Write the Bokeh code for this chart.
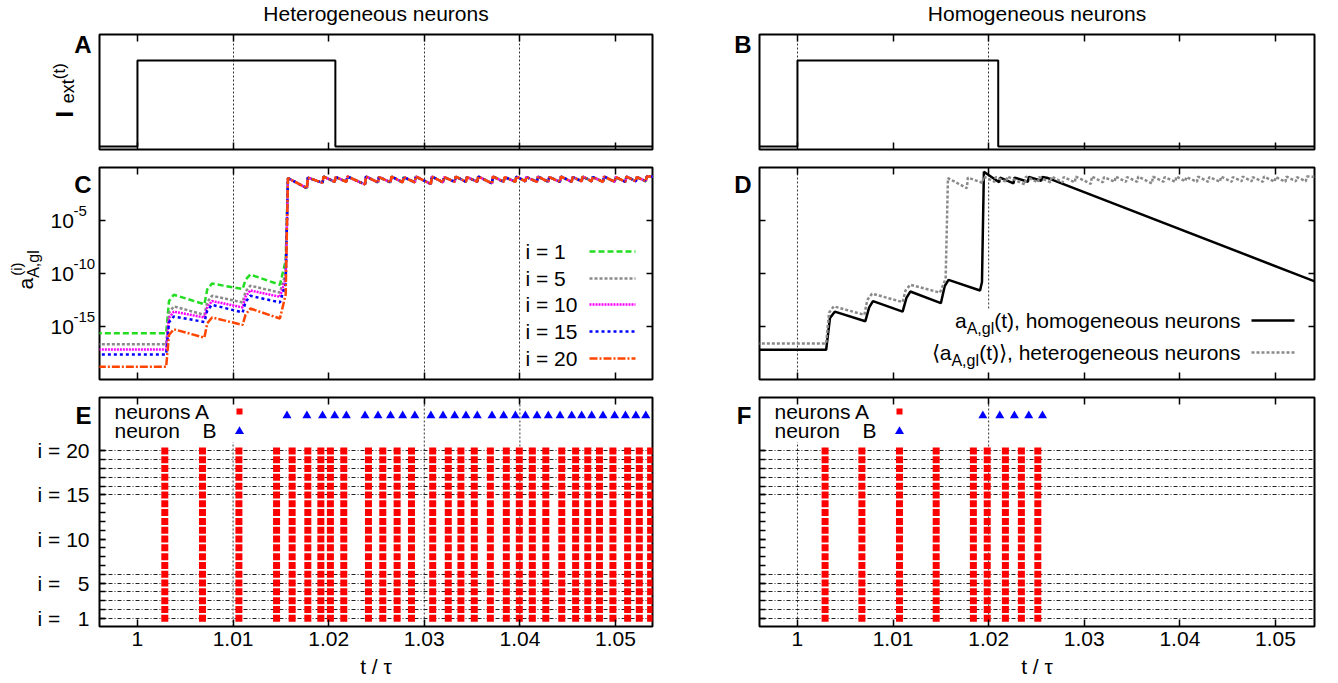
import numpy as np
from bokeh.plotting import figure
from bokeh.models import Range1d, FixedTicker, LinearAxis, LogAxis, Label, GridBox
from bokeh.layouts import column, row
from bokeh.embed import file_html
from bokeh.resources import INLINE

# ---------------- data ----------------
x_ticks = [1.0, 1.01, 1.02, 1.03, 1.04, 1.05]
x_tick_labels = ["1", "1.01", "1.02", "1.03", "1.04", "1.05"]

# panels A / B : external current (arbitrary units)
iext_t_het = [0.99, 1.0, 1.0207, 1.06]
iext_v_het = [0.0, 1.0, 0.0, 0.0]
iext_t_hom = [0.99, 1.0, 1.0210, 1.06]
iext_v_hom = [0.0, 1.0, 0.0, 0.0]

# dotted reference times
vlines_het = [1.01, 1.03, 1.04]
vlines_hom = [1.0, 1.02]

# panel C/D log axis
log_ticks = [1e-15, 1e-10, 1e-5]
log_tick_exps = ["-15", "-10", "-5"]

# panel C : log10 a_A,gl^(i) before the burst
early_t = [0.99, 1.0030, 1.0033, 1.0038, 1.0070, 1.0073, 1.0078, 1.0110, 1.0113, 1.0118, 1.0149, 1.0155]
log_a_i1 = [-15.64, -15.64, -12.6, -12.0, -12.9, -11.5, -10.95, -11.47, -10.6, -10.1, -11.06, -8.8]
log_a_i5 = [-16.68, -16.68, -13.7, -13.1, -13.9, -12.7, -12.1, -12.73, -11.7, -11.15, -11.8, -10.0]
log_a_i10 = [-17.16, -17.16, -14.2, -13.6, -14.15, -13.2, -12.6, -13.2, -12.2, -11.6, -12.2, -10.5]
log_a_i15 = [-17.63, -17.63, -14.6, -14.06, -14.57, -13.5, -12.95, -13.68, -12.7, -12.1, -12.73, -11.0]
log_a_i20 = [-18.8, -18.8, -15.8, -15.26, -16.05, -14.7, -14.15, -14.85, -13.9, -13.3, -14.25, -12.0]
log_a_mean_het = [-16.6, -16.6, -13.7, -13.1, -13.9, -12.5, -11.9, -12.7, -11.6, -11.06, -11.8, -10.5]
series_names = ["i = 1", "i = 5", "i = 10", "i = 15", "i = 20"]

# saturated (sawtooth) part, driven by the spikes of neuron B
spike_B_het = [1.01564, 1.01772, 1.01936, 1.02063, 1.02185, 1.02380, 1.02516, 1.02647, 1.02774, 1.02901,
               1.03069, 1.03196, 1.03318, 1.03436, 1.03554, 1.03708, 1.03830, 1.03953, 1.04057, 1.04179,
               1.04297, 1.04420, 1.04542, 1.04646, 1.04751, 1.04869, 1.04991, 1.05104, 1.05213, 1.05317]
sat_peak = [-1.0, -0.95, -0.85, -0.9, -0.85, -0.85, -0.9, -0.85, -0.9, -0.85,
            -0.85, -0.9, -0.85, -0.9, -0.85, -0.85, -0.9, -0.85, -0.9, -0.85,
            -0.9, -0.85, -0.9, -0.85, -0.9, -0.85, -0.9, -0.85, -0.9, -0.85]
sat_trough = [-1.95, -1.45, -1.35, -1.35, -1.6, -1.4, -1.4, -1.4, -1.4, -1.55,
              -1.4, -1.35, -1.35, -1.35, -1.5, -1.35, -1.35, -1.3, -1.35, -1.35,
              -1.35, -1.35, -1.3, -1.3, -1.35, -1.35, -1.35, -1.3, -1.3]
sat_end_t = 1.06
sat_end_v = -1.0

# panel D : homogeneous neurons
hom_t = [0.99, 1.0030, 1.0034, 1.0039, 1.0071, 1.0075, 1.0079, 1.0110, 1.0114, 1.0118, 1.0150, 1.0154,
         1.0158, 1.0191, 1.0193, 1.0195, 1.0211, 1.0212, 1.0226, 1.0227, 1.0241, 1.0242, 1.0255, 1.0256,
         1.0262, 1.0545]
log_a_hom = [-17.2, -17.2, -14.2, -13.6, -14.5, -13.2, -12.6, -13.6, -12.3, -11.7, -12.8, -11.2,
             -10.6, -11.6, -10.8, -0.4, -1.4, -0.95, -1.5, -0.95, -1.35, -0.9, -1.25, -0.9,
             -1.0, -10.88]

# panels E / F : spike rasters
spike_A_het = [1.00286, 1.00680, 1.01061, 1.01455, 1.01618, 1.01782, 1.01918, 1.02018, 1.02158, 1.02416,
               1.02566, 1.02716, 1.02866, 1.03088, 1.03251, 1.03383, 1.03523, 1.03691, 1.03858, 1.03994,
               1.04130, 1.04271, 1.04438, 1.04583, 1.04710, 1.04832, 1.04973, 1.05127, 1.05249, 1.05367]
spike_A_hom = [1.00289, 1.00674, 1.01067, 1.01451, 1.01840, 1.01985, 1.02175, 1.02342, 1.02514]
spike_B_hom = [1.01939, 1.02116, 1.02269, 1.02419, 1.02563]
neuron_ids = list(range(1, 21))
neuron_B_row = 24
hlines = [1, 2, 3, 4, 5, 6, 15, 16, 17, 18, 19, 20]
y_tick_vals = [1, 5, 10, 15, 20]
y_tick_labels = ["i = \u20071", "i = \u20075", "i = 10", "i = 15", "i = 20"]

# ---------------- layout / style ----------------
FONT = "Liberation Sans"
X0 = 0.99603
X1_L, X1_R = 1.05387, 1.05408
FW_L, FW_R = 553, 555
FH = [115, 212, 229]
BL_L, BR_L, BL_R, BR_R = 99, 20, 87, 20
BT = [34, 9, 9]
BB = [9, 9, 55]
PAGE_W = BL_L + FW_L + BR_L + BL_R + FW_R + BR_R
PAGE_H = sum(BT) + sum(FH) + sum(BB)
FRAME_LEFT = [BL_L, BL_L + FW_L + BR_L + BL_R]
FRAME_TOP = [BT[0], BT[0] + FH[0] + BB[0] + BT[1],
             BT[0] + FH[0] + BB[0] + BT[1] + FH[1] + BB[1] + BT[2]]
YA = (-0.035, 1.302)
YC = (1e-20, 1.0)
YE = (0.07, 26.06)
RISE = 0.0001
KEY_TOP_E = 21.0
KEY_RIGHT_E = 1.0115
KEY_TOP_D = 10 ** -13.3
BASE_FIX = 0.35   # renderer puts the text ~0.35 em below the requested baseline

series_colors = ["#22dd22", "#8a8a8a", "#ff00ff", "#0000ff", "#ff4500"]
series_dashes = ["6 3", "3 2", "2 1", "3 3", "8 2 2 2"]

W = {' ': 278, '(': 333, ')': 333, ',': 278, 'a': 556, 'c': 500, 'e': 556, 'g': 556, 'h': 556,
     'i': 222, 'l': 222, 'm': 833, 'n': 556, 'o': 556, 'r': 333, 's': 500, 't': 278, 'u': 556,
     'x': 500, 'A': 667, 'B': 667, '\u27e8': 390, '\u27e9': 390, '-': 333}


def tw(s, size):
    return sum(W.get(c, 556) for c in s) * size / 1000.0


def lab(p, x, y, text, size=21, bold=False, align="left"):
    """label inside a figure frame, x/y = baseline in px from the frame's bottom-left"""
    p.add_layout(Label(x=float(x), y=float(y + BASE_FIX * size), x_units="screen", y_units="screen",
                       text=text, text_font=FONT, text_font_size=f"{size}px",
                       text_font_style="bold" if bold else "normal",
                       text_align=align, text_baseline="alphabetic", text_color="black"))


overlay = figure(width=PAGE_W, height=PAGE_H, x_range=Range1d(0, PAGE_W), y_range=Range1d(PAGE_H, 0),
                 x_axis_location=None, y_axis_location=None, output_backend="svg",
                 toolbar_location=None, title=None,
                 min_border_left=0, min_border_right=0, min_border_top=0, min_border_bottom=0)
overlay.outline_line_color = None
overlay.background_fill_color = None
overlay.border_fill_color = None
overlay.grid.visible = False


def olab(x, y, text, size=21, bold=False, align="left", rotated=False):
    """label in page pixels (top-left origin); x/y = baseline start point"""
    if rotated:
        x = x - BASE_FIX * size
    else:
        y = y - BASE_FIX * size
    overlay.add_layout(Label(x=float(x), y=float(y), text=text,
                             text_font=FONT, text_font_size=f"{size}px",
                             text_font_style="bold" if bold else "normal",
                             text_align=align, text_baseline="alphabetic",
                             angle=float(np.pi / 2) if rotated else 0.0,
                             text_color="black"))


def ticks_only(ax, ticks, minor=None, length=6):
    ax.ticker = FixedTicker(ticks=ticks, minor_ticks=minor or [])
    ax.major_tick_in = length
    ax.major_tick_out = 0
    ax.minor_tick_in = length if minor else 0
    ax.minor_tick_out = 0
    ax.major_tick_line_width = 1.5
    ax.minor_tick_line_width = 1.5
    ax.major_tick_line_color = "black"
    ax.minor_tick_line_color = "black"
    ax.axis_line_color = None
    ax.major_label_text_font_size = "1px"
    ax.major_label_text_color = None
    ax.major_label_standoff = 0


def make_fig(col, r, yr, ylog=False, grid=True):
    fw = FW_L if col == 0 else FW_R
    bl = BL_L if col == 0 else BL_R
    br = BR_L if col == 0 else BR_R
    x1 = X1_L if col == 0 else X1_R
    p = figure(width=bl + fw + br, height=BT[r] + FH[r] + BB[r],
               x_range=Range1d(X0, x1), y_range=Range1d(*yr),
               y_axis_type="log" if ylog else "linear",
               output_backend="svg", toolbar_location=None, title=None,
               min_border_left=bl, min_border_right=br,
               min_border_top=BT[r], min_border_bottom=BB[r])
    p.outline_line_color = "black"
    p.outline_line_width = 2
    p.background_fill_color = "white"
    p.border_fill_color = "white"
    p.ygrid.visible = False
    if grid:
        p.xgrid.ticker = FixedTicker(ticks=vlines_het if col == 0 else vlines_hom)
        p.xgrid.grid_line_color = "#333333"
        p.xgrid.grid_line_dash = "2 2"
        p.xgrid.grid_line_width = 1
    else:
        p.xgrid.visible = False
    ticks_only(p.below[0], x_ticks, length=7)
    top = LinearAxis()
    p.add_layout(top, "above")
    ticks_only(top, x_ticks, length=7)
    return p, fw, x1


def vline_segments(p, xs, y0s, y1s):
    p.segment(x0=xs, y0=y0s, x1=xs, y1=y1s, line_color="#333333", line_dash="2 2",
              line_width=1, level="underlay")


def to_x(rel, fw, x1):
    return X0 + rel / fw * (x1 - X0)


def to_ylog(rel, fh):
    return float(10 ** (-20 + 20.0 * rel / fh))


def to_ylin(rel, fh, y0, y1):
    return y0 + rel / fh * (y1 - y0)


def sawtooth():
    ts, vs = [], []
    for k, t in enumerate(spike_B_het):
        if k > 0:
            ts.append(t)
            vs.append(sat_trough[k - 1])
        ts.append(t + RISE)
        vs.append(sat_peak[k])
    ts.append(sat_end_t)
    vs.append(sat_end_v)
    return ts, vs


sat_t, sat_v = sawtooth()

# ---------------- panel A / B ----------------
figs_top = []
for col, (tt, vv) in enumerate([(iext_t_het, iext_v_het), (iext_t_hom, iext_v_hom)]):
    p, fw, x1 = make_fig(col, 0, YA)
    p.yaxis.visible = False
    p.step(tt, vv, mode="after", line_color="black", line_width=2)
    figs_top.append(p)

# ---------------- panel C ----------------
pC, fwC, x1C = make_fig(0, 1, YC, ylog=True)
ticks_only(pC.left[0], log_ticks)
rC = LogAxis()
pC.add_layout(rC, "right")
ticks_only(rC, log_ticks)
for vals, color, dash in zip([log_a_i1, log_a_i5, log_a_i10, log_a_i15, log_a_i20], series_colors, series_dashes):
    t_all = early_t + sat_t
    v_all = [float(10 ** v) for v in vals + sat_v]
    pC.line(t_all, v_all, line_color=color, line_dash=dash, line_width=2.5)
leg_rows = [128, 101, 75, 48, 21]
for name, color, dash, ry in zip(series_names, series_colors, series_dashes, leg_rows):
    lab(pC, 426, ry - 7.5, name, 21)
    pC.line([to_x(490, fwC, x1C), to_x(536, fwC, x1C)], [to_ylog(ry, FH[1])] * 2,
            line_color=color, line_dash=dash, line_width=2.5)

# ---------------- panel D ----------------
pD, fwD, x1D = make_fig(1, 1, YC, ylog=True, grid=False)
vline_segments(pD, vlines_hom, [1e-20, KEY_TOP_D], [1.0, 1.0])
ticks_only(pD.left[0], log_ticks)
rD = LogAxis()
pD.add_layout(rD, "right")
ticks_only(rD, log_ticks)
pD.line(hom_t, [float(10 ** v) for v in log_a_hom], line_color="black", line_width=2.5)
pD.line(early_t + sat_t, [float(10 ** v) for v in log_a_mean_het + sat_v],
        line_color="#8a8a8a", line_dash="3 2", line_width=2.5)
for ry, pre, tail, color, dash in [(59, "a", "(t), homogeneous neurons", "black", "solid"),
                                   (27, "\u27e8a", "(t)\u27e9, heterogeneous neurons", "#8a8a8a", "3 2")]:
    xr = 481
    lab(pD, xr, ry - 7.5, tail, 21, align="right")
    xs = xr - tw(tail, 21)
    lab(pD, xs, ry - 13.5, "A,gl", 16, align="right")
    xa = xs - tw("A,gl", 16)
    lab(pD, xa, ry - 7.5, pre, 21, align="right")
    pD.line([to_x(492, fwD, x1D), to_x(535, fwD, x1D)], [to_ylog(ry, FH[1])] * 2,
            line_color=color, line_dash=dash, line_width=2.5)

# ---------------- panel E / F ----------------
figs_bot = []
for col, (spA, spB) in enumerate([(spike_A_het, spike_B_het), (spike_A_hom, spike_B_hom)]):
    p, fw, x1 = make_fig(col, 2, YE, grid=False)
    vl = vlines_het if col == 0 else vlines_hom
    y1s = [KEY_TOP_E if v < KEY_RIGHT_E else YE[1] for v in vl]
    vline_segments(p, vl, [YE[0]] * len(vl), y1s)
    p.ygrid.visible = True
    p.ygrid.ticker = FixedTicker(ticks=hlines)
    p.ygrid.grid_line_color = "#222222"
    p.ygrid.grid_line_dash = "4 2 1 2"
    p.ygrid.grid_line_width = 1
    ax = p.below[0]
    ax.major_label_text_font_size = "21px"
    ax.major_label_text_font = FONT
    ax.major_label_text_color = "black"
    ax.major_label_standoff = 5
    ax.major_label_overrides = dict(zip(x_ticks, x_tick_labels))
    ly = p.left[0]
    ticks_only(ly, y_tick_vals, minor=neuron_ids, length=6)
    if col == 0:
        ly.major_label_text_font_size = "21px"
        ly.major_label_text_font = FONT
        ly.major_label_text_color = "black"
        ly.major_label_standoff = 10
        ly.major_label_overrides = dict(zip(y_tick_vals, y_tick_labels))
    xs = [t for t in spA for _ in neuron_ids]
    ys = [i for _ in spA for i in neuron_ids]
    p.scatter(xs, ys, marker="square", size=7, fill_color="#ff0000", line_color=None)
    p.scatter(spB, [neuron_B_row] * len(spB), marker="triangle", size=9,
              fill_color="#0000ff", line_color=None)
    lab(p, 15, 207.5, "neurons A", 21)
    lab(p, 15, 188.5, "neuron", 21)
    lab(p, 117, 188.5, "B", 21, align="right")
    p.scatter([to_x(140, fw, x1)], [to_ylin(215, FH[2], *YE)], marker="square", size=6,
              fill_color="#ff0000", line_color=None)
    p.scatter([to_x(140, fw, x1)], [to_ylin(195, FH[2], *YE)], marker="triangle", size=9,
              fill_color="#0000ff", line_color=None)
    figs_bot.append(p)

# ---------------- texts outside the frames (overlay, page pixels) ----------------
for col, title in enumerate(["Heterogeneous neurons", "Homogeneous neurons"]):
    fl = FRAME_LEFT[col]
    fw = FW_L if col == 0 else FW_R
    olab(fl + fw / 2, FRAME_TOP[0] - 14, title, 21, align="center")
    olab(fl + fw / 2, FRAME_TOP[2] + FH[2] + 47, "t / \u03c4", 21, align="center")
for col, letters in enumerate([["A", "C", "E"], ["B", "D", "F"]]):
    fl = FRAME_LEFT[col]
    for r, (letter, off) in enumerate(zip(letters, [18, 25, 26])):
        olab(fl - 8, FRAME_TOP[r] + off, letter, 24, bold=True, align="right")

# I_ext(t)  (rotated, reading upwards; x = baseline)
olab(72, 117, "I", 24, bold=True, rotated=True)
olab(74, 117 - tw("I", 24) - 1, "ext", 18, rotated=True)
olab(65, 117 - tw("I", 24) - 1 - tw("ext", 18), "(t)", 17, rotated=True)
# a_A,gl^(i)
olab(32, 289, "a", 21, rotated=True)
olab(39, 289 - tw("a", 21), "A,gl", 16, rotated=True)
olab(21, 287 - tw("a", 21), "(i)", 15, rotated=True)
# log tick labels of C
for v, e in zip(log_ticks, log_tick_exps):
    ty = FRAME_TOP[1] + (1 - (float(np.log10(v)) + 20) / 20) * FH[1]
    olab(50, ty + 7.5, "10", 21)
    olab(73, ty - 4.5, e, 15)

main = column(row(figs_top[0], figs_top[1]),
              row(pC, pD),
              row(figs_bot[0], figs_bot[1]))
page = GridBox(children=[(main, 0, 0), (overlay, 0, 0)])

open("out.html", "w").write(file_html(page, INLINE))
